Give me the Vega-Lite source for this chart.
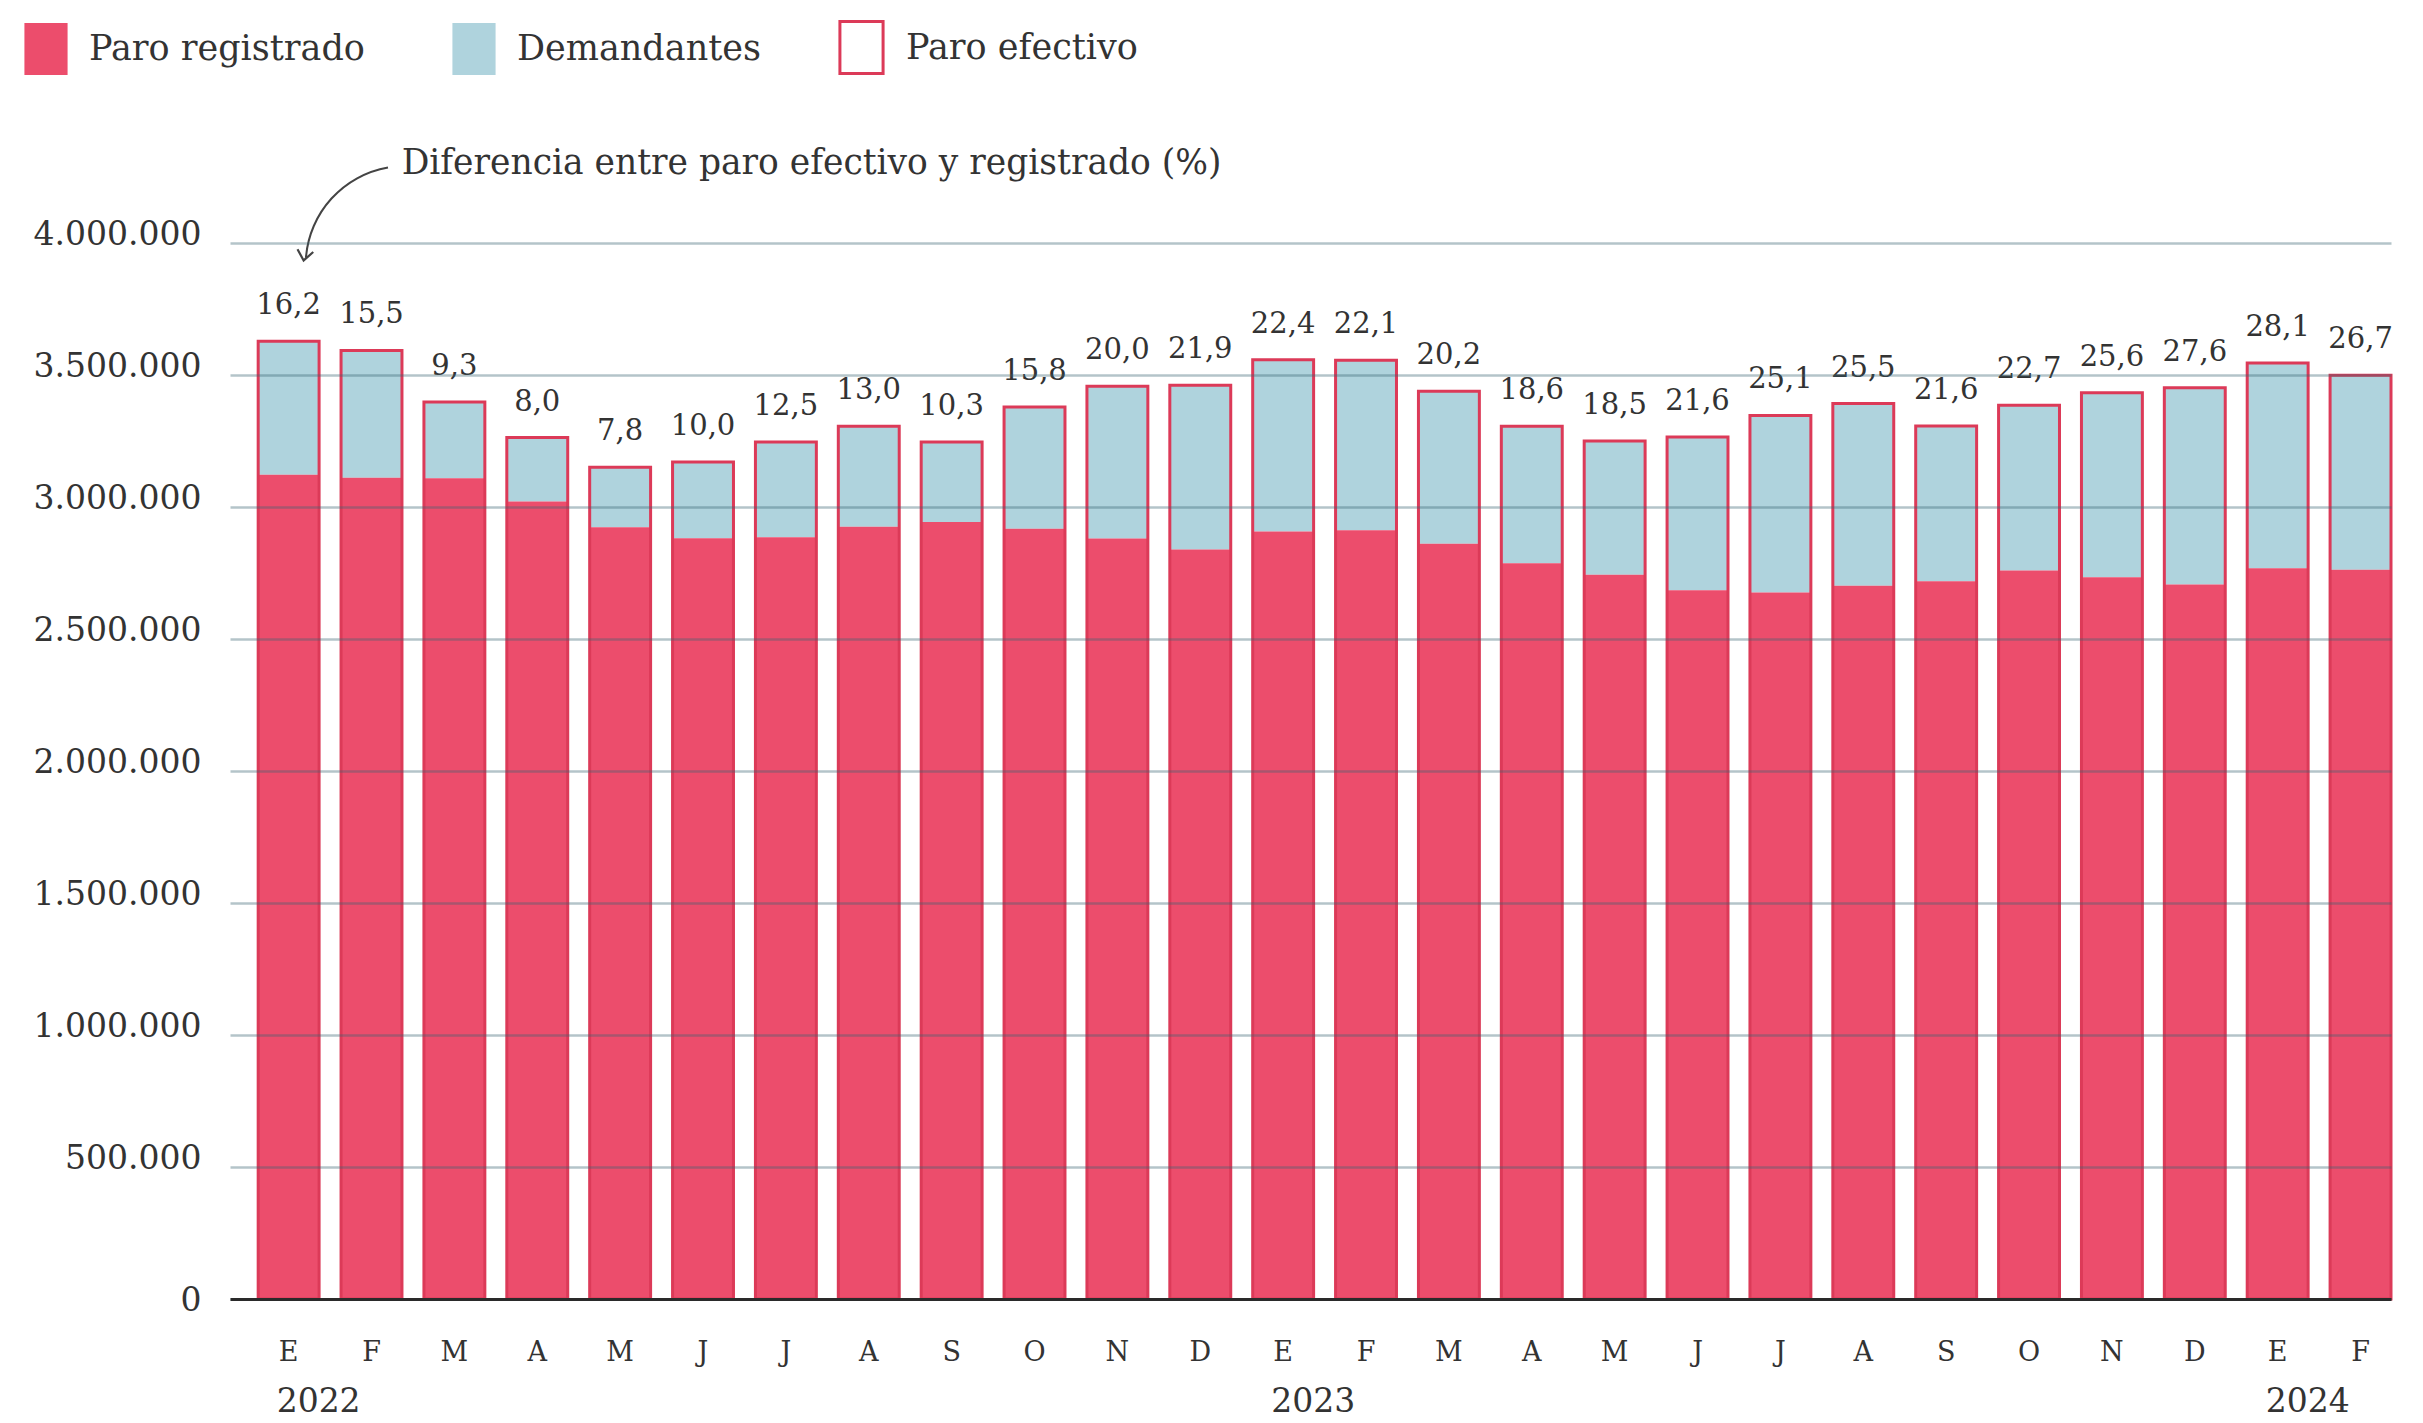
{
  "$schema": "https://vega.github.io/schema/vega-lite/v6.json",
  "width": 2161,
  "height": 1056,
  "autosize": {"type": "none"},
  "padding": {"left": 230, "top": 243, "right": 32, "bottom": 124},
  "background": "#ffffff",
  "config": {
    "locale": {"number": {"decimal": ",", "thousands": ".", "grouping": [3], "currency": ["", " €"]}},
    "view": {"stroke": null},
    "font": "DejaVu Serif"
  },
  "data": {
    "values": [
      {"mes": "2022-01", "anio": "2022", "registrado": 3122000, "efectivo": 3628000, "pct": 16.2},
      {"mes": "2022-02", "anio": "2022", "registrado": 3111000, "efectivo": 3593000, "pct": 15.5},
      {"mes": "2022-03", "anio": "2022", "registrado": 3109000, "efectivo": 3398000, "pct": 9.3},
      {"mes": "2022-04", "anio": "2022", "registrado": 3021000, "efectivo": 3263000, "pct": 8.0},
      {"mes": "2022-05", "anio": "2022", "registrado": 2923000, "efectivo": 3151000, "pct": 7.8},
      {"mes": "2022-06", "anio": "2022", "registrado": 2882000, "efectivo": 3170000, "pct": 10.0},
      {"mes": "2022-07", "anio": "2022", "registrado": 2885000, "efectivo": 3246000, "pct": 12.5},
      {"mes": "2022-08", "anio": "2022", "registrado": 2925000, "efectivo": 3306000, "pct": 13.0},
      {"mes": "2022-09", "anio": "2022", "registrado": 2943000, "efectivo": 3246000, "pct": 10.3},
      {"mes": "2022-10", "anio": "2022", "registrado": 2918000, "efectivo": 3379000, "pct": 15.8},
      {"mes": "2022-11", "anio": "2022", "registrado": 2881000, "efectivo": 3457000, "pct": 20.0},
      {"mes": "2022-12", "anio": "2022", "registrado": 2839000, "efectivo": 3461000, "pct": 21.9},
      {"mes": "2023-01", "anio": "2023", "registrado": 2907000, "efectivo": 3558000, "pct": 22.4},
      {"mes": "2023-02", "anio": "2023", "registrado": 2912000, "efectivo": 3556000, "pct": 22.1},
      {"mes": "2023-03", "anio": "2023", "registrado": 2861000, "efectivo": 3438000, "pct": 20.2},
      {"mes": "2023-04", "anio": "2023", "registrado": 2787000, "efectivo": 3306000, "pct": 18.6},
      {"mes": "2023-05", "anio": "2023", "registrado": 2743000, "efectivo": 3250000, "pct": 18.5},
      {"mes": "2023-06", "anio": "2023", "registrado": 2685000, "efectivo": 3265000, "pct": 21.6},
      {"mes": "2023-07", "anio": "2023", "registrado": 2676000, "efectivo": 3347000, "pct": 25.1},
      {"mes": "2023-08", "anio": "2023", "registrado": 2702000, "efectivo": 3392000, "pct": 25.5},
      {"mes": "2023-09", "anio": "2023", "registrado": 2719000, "efectivo": 3307000, "pct": 21.6},
      {"mes": "2023-10", "anio": "2023", "registrado": 2759000, "efectivo": 3385000, "pct": 22.7},
      {"mes": "2023-11", "anio": "2023", "registrado": 2734000, "efectivo": 3433000, "pct": 25.6},
      {"mes": "2023-12", "anio": "2023", "registrado": 2706000, "efectivo": 3452000, "pct": 27.6},
      {"mes": "2024-01", "anio": "2024", "registrado": 2768000, "efectivo": 3545000, "pct": 28.1},
      {"mes": "2024-02", "anio": "2024", "registrado": 2762000, "efectivo": 3499000, "pct": 26.7}
    ]
  },
  "encoding": {
    "x": {
      "field": "mes",
      "type": "ordinal",
      "scale": {"type": "band", "paddingInner": 0.265, "paddingOuter": 0.17, "align": 1},
      "axis": {
        "title": null,
        "labelExpr": "['E','F','M','A','M','J','J','A','S','O','N','D'][toNumber(slice(datum.value, 5)) - 1]",
        "labelFont": "DejaVu Serif",
        "labelFontSize": 27,
        "labelColor": "#333333",
        "labelPadding": 40,
        "labelAngle": 0,
        "labelBaseline": "top",
        "ticks": false,
        "grid": false,
        "domain": true,
        "domainColor": "#2a2a2a",
        "domainWidth": 3,
        "zindex": 1
      }
    }
  },
  "layer": [
    {
      "mark": {"type": "bar"},
      "encoding": {
        "y": {
          "field": "registrado",
          "type": "quantitative",
          "scale": {"domain": [0, 4000000], "nice": false, "zero": true},
          "axis": {
            "title": null,
            "values": [0, 500000, 1000000, 1500000, 2000000, 2500000, 3000000, 3500000, 4000000],
            "format": ",d",
            "labelFont": "DejaVu Serif",
            "labelFontSize": 33,
            "labelColor": "#333333",
            "labelPadding": 29,
            "labelBaseline": {"condition": {"test": "datum.value === 0", "value": "middle"}, "value": "alphabetic"},
            "labelOffset": 1,
            "ticks": false,
            "domain": false,
            "grid": true,
            "gridColor": "#3b6470",
            "gridOpacity": 0.38,
            "gridWidth": 2.5,
            "zindex": 1
          }
        },
        "y2": {"field": "efectivo"},
        "color": {
          "datum": "Demandantes",
          "scale": {
            "domain": ["Paro registrado", "Demandantes"],
            "range": ["#ec4d6c", "#afd3dd"]
          },
          "legend": {
            "title": null,
            "orient": "none",
            "legendX": -210,
            "legendY": -220,
            "direction": "horizontal",
            "symbolType": "M-0.83,-1H0.83V1H-0.83Z",
            "symbolSize": 2704,
            "symbolStrokeWidth": 0,
            "labelFont": "DejaVu Serif",
            "labelFontSize": 35,
            "labelColor": "#333333",
            "labelOffset": 17,
            "labelLimit": 600,
            "labelBaseline": "middle",
            "columnPadding": 83
          }
        }
      }
    },
    {
      "mark": {"type": "bar"},
      "encoding": {
        "y": {"field": "registrado", "type": "quantitative"},
        "color": {"datum": "Paro registrado"}
      }
    },
    {
      "mark": {"type": "bar", "filled": false, "strokeWidth": 3},
      "encoding": {
        "y": {"field": "efectivo", "type": "quantitative"},
        "stroke": {
          "datum": "Paro efectivo",
          "scale": {"domain": ["Paro efectivo"], "range": ["#dc3a58"]},
          "legend": {
            "title": null,
            "orient": "none",
            "legendX": 604,
            "legendY": -223,
            "direction": "horizontal",
            "symbolType": "M-0.83,-1H0.83V1H-0.83Z",
            "symbolSize": 2704,
            "symbolStrokeWidth": 3,
            "symbolFillColor": "#ffffff",
            "labelFont": "DejaVu Serif",
            "labelFontSize": 35,
            "labelColor": "#333333",
            "labelOffset": 17,
            "labelLimit": 600,
            "labelBaseline": "middle"
          }
        }
      }
    },
    {
      "mark": {"type": "text", "font": "DejaVu Serif", "fontSize": 29, "color": "#333333", "baseline": "alphabetic", "dy": -27},
      "encoding": {
        "y": {"field": "efectivo", "type": "quantitative"},
        "text": {"field": "pct", "type": "quantitative", "format": ".1f"}
      }
    },
    {
      "transform": [{"filter": "slice(datum.mes, 5) === '01'"}],
      "mark": {"type": "text", "font": "DejaVu Serif", "fontSize": 33, "color": "#333333", "baseline": "alphabetic", "align": "left", "dx": -12, "dy": 113},
      "encoding": {
        "y": {"datum": 0},
        "text": {"field": "anio", "type": "nominal"}
      }
    },
    {
      "data": {"values": [{"nota": "Diferencia entre paro efectivo y registrado (%)"}]},
      "mark": {"type": "text", "font": "DejaVu Serif", "fontSize": 34.5, "color": "#333333", "baseline": "middle", "align": "left", "dx": 113},
      "encoding": {
        "x": {"datum": "2022-01"},
        "y": {"datum": 4300000},
        "text": {"field": "nota", "type": "nominal"}
      }
    },
    {
      "data": {"values": [{"nota": "flecha"}]},
      "mark": {"type": "arc", "radius": 100.5, "radius2": 98.5, "theta": 4.79, "theta2": 6.11, "color": "#444444", "xOffset": 116.5},
      "encoding": {
        "x": {"datum": "2022-01"},
        "y": {"datum": 3915000}
      }
    },
    {
      "data": {"values": [{"nota": "punta"}]},
      "mark": {"type": "point", "shape": "M-0.8,-1L0,0L0.8,-1", "size": 400, "filled": false, "strokeWidth": 2.2, "color": "#444444", "angle": 10, "xOffset": 15, "yOffset": -5, "opacity": 1},
      "encoding": {
        "x": {"datum": "2022-01"},
        "y": {"datum": 3915000}
      }
    }
  ]
}
